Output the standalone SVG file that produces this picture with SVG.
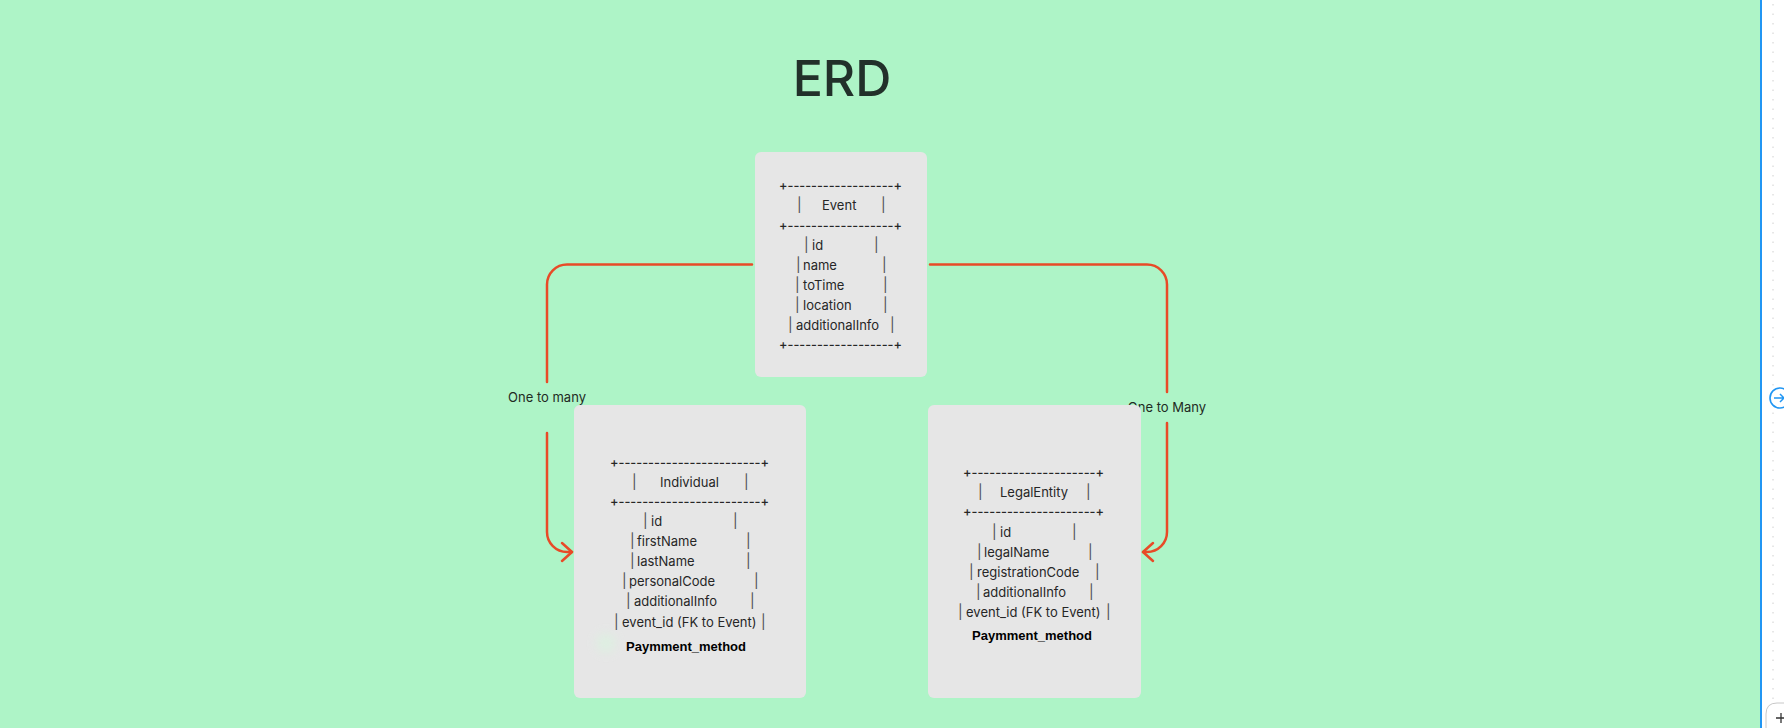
<svg xmlns="http://www.w3.org/2000/svg" width="1784" height="728" viewBox="0 0 1784 728">
  <defs>
    <style>
      .bg { fill: #aef4c7; }
      .card { fill: #e6e6e6; }
      .row { font-family: Inter, "Noto Sans", "Liberation Sans", sans-serif; font-size: 13px; fill: #262626; white-space: pre; }
      .bar { font-family: Inter, "Noto Sans", "Liberation Sans", sans-serif; font-size: 14px; fill: #505050; }
      .rule { font-family: Inter, "Noto Sans", "Liberation Sans", sans-serif; font-size: 13px; font-weight: 500; fill: #262626; }
      .pay { font-family: "Liberation Sans", Arial, sans-serif; font-size: 13px; font-weight: bold; fill: #000; text-anchor: middle; }
      .title { font-family: Inter, "Noto Sans", "Liberation Sans", sans-serif; font-size: 50px; font-weight: 500; fill: #22302a; text-anchor: middle; }
      .label { font-family: Inter, "Noto Sans", "Liberation Sans", sans-serif; font-size: 13px; fill: #1f2a23; text-anchor: middle; }
      .link { fill: none; stroke: #e84a27; stroke-width: 2.5; stroke-linecap: round; stroke-linejoin: round; }
    </style>
    <marker id="open-arrow" markerUnits="userSpaceOnUse" markerWidth="24" markerHeight="24" viewBox="-12 -12 24 24" refX="0" refY="0" orient="auto">
      <path d="M -10 -9 L 0 0 L -10 9" fill="none" stroke="#e84a27" stroke-width="2.5" stroke-linecap="round" stroke-linejoin="round"/>
    </marker>
    <filter id="soft" x="-100%" y="-100%" width="300%" height="300%">
      <feGaussianBlur stdDeviation="5"/>
    </filter>
  </defs>

  <!-- canvas -->
  <rect class="bg" x="0" y="0" width="1784" height="728"/>

  <!-- side panel -->
  <g id="side-panel">
    <rect x="1762" y="0" width="22" height="728" fill="#ffffff"/>
    <line x1="1773" y1="4" x2="1773" y2="700" stroke="#d0d0d0" stroke-width="1" stroke-dasharray="1.5 8"/>
    <rect x="1760" y="0" width="2" height="728" fill="#2196f3"/>
    <circle cx="1780" cy="398" r="10" fill="#ffffff" stroke="#2196f3" stroke-width="1.6"/>
    <path d="M 1774 398 H 1784 M 1780 394 L 1784 398 L 1780 402" fill="none" stroke="#2196f3" stroke-width="1.5"/>
    <path d="M 1766 728 V 714 Q 1766 703 1777 703 H 1784" fill="#ffffff" stroke="#c8c8c8" stroke-width="1"/>
    <path d="M 1776 718 H 1784 M 1781 713 V 723" stroke="#333333" stroke-width="1.3"/>
  </g>

  <!-- heading -->
  <text class="title" x="842" y="96">ERD</text>

  <!-- relationships -->
  <g id="connectors">
    <path class="link" d="M 752 264.5 H 567 A 20 20 0 0 0 547 284.5 V 382"/>
    <path class="link" d="M 547 433 V 532 A 20 20 0 0 0 567 552 H 572" marker-end="url(#open-arrow)"/>
    <text class="label" x="547" y="402">One to many</text>

    <path class="link" d="M 930 264.5 H 1147 A 20 20 0 0 1 1167 284.5 V 392"/>
    <path class="link" d="M 1167 423 V 532 A 20 20 0 0 1 1147 552 H 1143" marker-end="url(#open-arrow)"/>
    <text class="label" x="1167" y="412">One to Many</text>
  </g>

  <!-- Event entity -->
  <g id="event">
    <rect class="card" x="755" y="152" width="172" height="225" rx="6"/>
    <text class="rule" x="779" y="190" textLength="123" lengthAdjust="spacingAndGlyphs">+------------------+</text>
    <text class="row" y="210"><tspan class="bar" x="797">|</tspan><tspan x="822">Event</tspan><tspan class="bar" x="881">|</tspan></text>
    <text class="rule" x="779" y="230" textLength="123" lengthAdjust="spacingAndGlyphs">+------------------+</text>
    <text class="row" y="250"><tspan class="bar" x="804">|</tspan><tspan x="812">id</tspan><tspan class="bar" x="874">|</tspan></text>
    <text class="row" y="270"><tspan class="bar" x="796">|</tspan><tspan x="803">name</tspan><tspan class="bar" x="882">|</tspan></text>
    <text class="row" y="290"><tspan class="bar" x="795">|</tspan><tspan x="803">toTime</tspan><tspan class="bar" x="883">|</tspan></text>
    <text class="row" y="310"><tspan class="bar" x="795">|</tspan><tspan x="803">location</tspan><tspan class="bar" x="883">|</tspan></text>
    <text class="row" y="330"><tspan class="bar" x="788">|</tspan><tspan x="796">additionalInfo</tspan><tspan class="bar" x="890">|</tspan></text>
    <text class="rule" x="779" y="349" textLength="123" lengthAdjust="spacingAndGlyphs">+------------------+</text>
  </g>

  <!-- Individual entity -->
  <g id="individual">
    <rect class="card" x="574" y="405" width="232" height="293" rx="6"/>
    <circle cx="606" cy="643" r="10" fill="#dbf2e0" opacity="0.7" filter="url(#soft)"/>
    <text class="rule" x="610" y="467" textLength="159" lengthAdjust="spacingAndGlyphs">+------------------------+</text>
    <text class="row" y="487"><tspan class="bar" x="632">|</tspan><tspan x="660">Individual</tspan><tspan class="bar" x="744">|</tspan></text>
    <text class="rule" x="610" y="506" textLength="159" lengthAdjust="spacingAndGlyphs">+------------------------+</text>
    <text class="row" y="526"><tspan class="bar" x="643">|</tspan><tspan x="651">id</tspan><tspan class="bar" x="733">|</tspan></text>
    <text class="row" y="546"><tspan class="bar" x="630">|</tspan><tspan x="637">firstName</tspan><tspan class="bar" x="746">|</tspan></text>
    <text class="row" y="566"><tspan class="bar" x="630">|</tspan><tspan x="637">lastName</tspan><tspan class="bar" x="746">|</tspan></text>
    <text class="row" y="586"><tspan class="bar" x="622">|</tspan><tspan x="629">personalCode</tspan><tspan class="bar" x="754">|</tspan></text>
    <text class="row" y="606"><tspan class="bar" x="626">|</tspan><tspan x="634">additionalInfo</tspan><tspan class="bar" x="750">|</tspan></text>
    <text class="row" y="627"><tspan class="bar" x="614">|</tspan><tspan x="622">event_id (FK to Event)</tspan><tspan class="bar" x="761">|</tspan></text>
    <text class="pay" x="686" y="651">Paymment_method</text>
  </g>

  <!-- LegalEntity entity -->
  <g id="legal-entity">
    <rect class="card" x="928" y="405" width="213" height="293" rx="6"/>
    <text class="rule" x="963" y="477" textLength="141" lengthAdjust="spacingAndGlyphs">+---------------------+</text>
    <text class="row" y="497"><tspan class="bar" x="978">|</tspan><tspan x="1000">LegalEntity</tspan><tspan class="bar" x="1086">|</tspan></text>
    <text class="rule" x="963" y="516" textLength="141" lengthAdjust="spacingAndGlyphs">+---------------------+</text>
    <text class="row" y="537"><tspan class="bar" x="992">|</tspan><tspan x="1000">id</tspan><tspan class="bar" x="1072">|</tspan></text>
    <text class="row" y="557"><tspan class="bar" x="977">|</tspan><tspan x="984">legalName</tspan><tspan class="bar" x="1088">|</tspan></text>
    <text class="row" y="577"><tspan class="bar" x="969">|</tspan><tspan x="977">registrationCode</tspan><tspan class="bar" x="1095">|</tspan></text>
    <text class="row" y="597"><tspan class="bar" x="976">|</tspan><tspan x="983">additionalInfo</tspan><tspan class="bar" x="1089">|</tspan></text>
    <text class="row" y="617"><tspan class="bar" x="958">|</tspan><tspan x="966">event_id (FK to Event)</tspan><tspan class="bar" x="1106">|</tspan></text>
    <text class="pay" x="1032" y="640">Paymment_method</text>
  </g>
</svg>
